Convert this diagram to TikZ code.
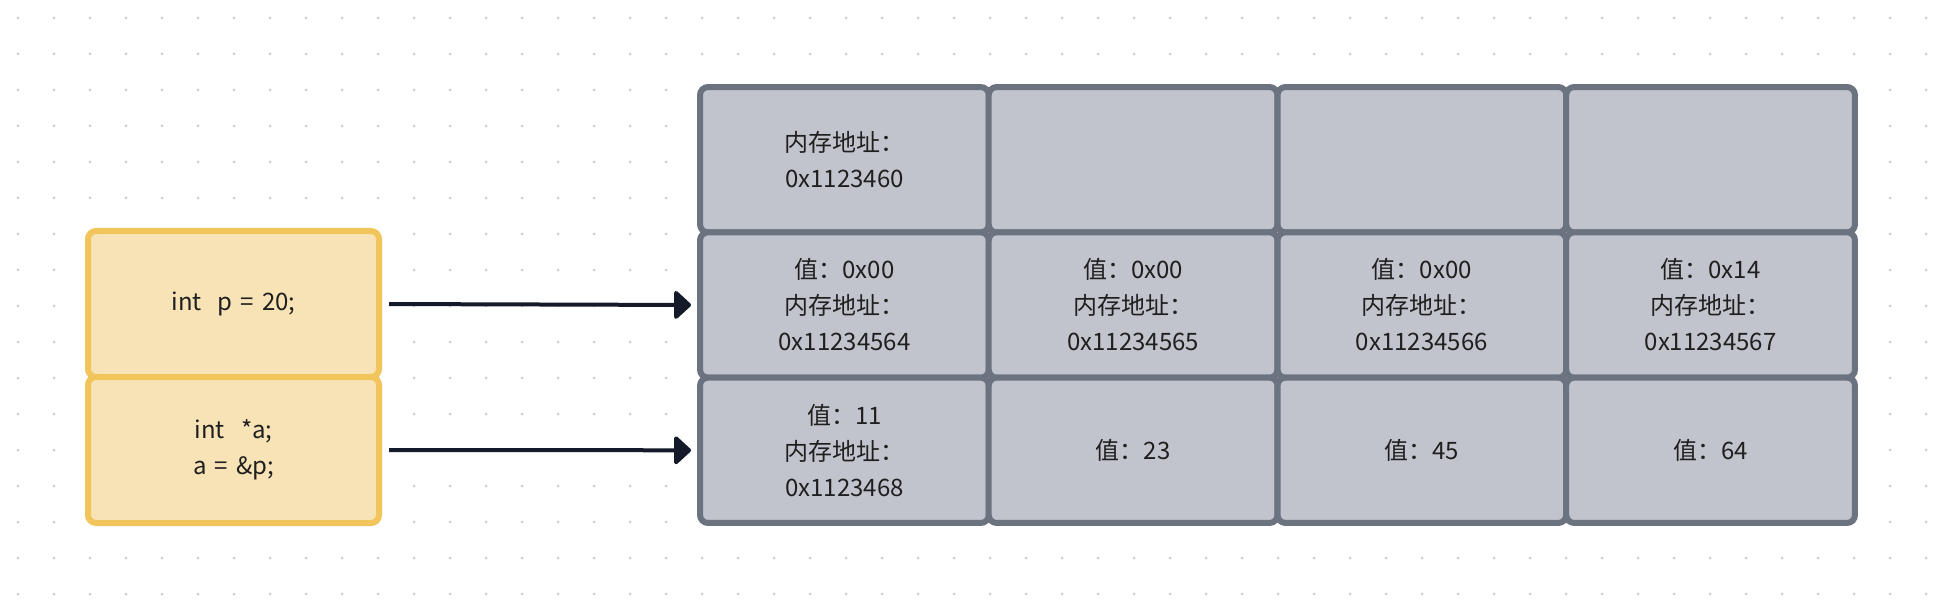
\documentclass[tikz,border=0pt]{standalone}
\usepackage{fontspec}
\setmainfont{Noto Sans CJK SC}[WordSpace={1.5,1,1}]
\usetikzlibrary{arrows.meta,shadows}
\definecolor{cellgray}{HTML}{C1C4CC}
\definecolor{cellline}{HTML}{6B7280}
\definecolor{varfill}{HTML}{F8E3B7}
\definecolor{varline}{HTML}{F2C45C}
\definecolor{inkdark}{HTML}{141A29}
\definecolor{dotgray}{HTML}{CFCFCF}
\tikzset{
	memcell/.style={draw=cellline, fill=cellgray, line width=6pt, rounded corners=8pt, minimum width=288.75pt, minimum height=145.33pt, inner sep=0pt, align=center, text=black!88, font=\fontsize{24}{36}\selectfont, drop shadow={shadow xshift=0pt, shadow yshift=-2pt, opacity=0.1}},
	varcell/.style={memcell, draw=varline, fill=varfill, minimum width=291pt, minimum height=146pt},
	pointer/.style={line width=4pt, color=inkdark, -{Triangle[length=18pt, width=32pt, round]}, shorten <=7pt, shorten >=6pt}
}

\begin{document}
\begin{tikzpicture}[x=1pt, y=-1pt]
			%%%%% START %%%%%
			
			\useasboundingbox[fill=white] (0, 0) rectangle (1944, 612);
			\foreach \i in {0,...,53}
				\foreach \j in {0,...,16}
					\fill[dotgray] (18+36*\i, 18+36*\j) circle (1.5);
			
			\node[varcell] (vp) at (233.5, 304) {int\ \ p = 20;};
			\node[varcell] (va) at (233.5, 450) {int\ \ *a;\\a = \&p;};
			
			\node[memcell] (c11) at (844.4, 159.7) {内存地址：\\0x1123460};
			\node[memcell] (c12) at (1133.1, 159.7) {};
			\node[memcell] (c13) at (1421.9, 159.7) {};
			\node[memcell] (c14) at (1710.6, 159.7) {};
			
			\node[memcell] (c21) at (844.4, 305) {值：0x00\\内存地址：\\0x11234564};
			\node[memcell] (c22) at (1133.1, 305) {值：0x00\\内存地址：\\0x11234565};
			\node[memcell] (c23) at (1421.9, 305) {值：0x00\\内存地址：\\0x11234566};
			\node[memcell] (c24) at (1710.6, 305) {值：0x14\\内存地址：\\0x11234567};
			
			\node[memcell] (c31) at (844.4, 450.3) {值：11\\内存地址：\\0x1123468};
			\node[memcell] (c32) at (1133.1, 450.3) {值：23};
			\node[memcell] (c33) at (1421.9, 450.3) {值：45};
			\node[memcell] (c34) at (1710.6, 450.3) {值：64};
			
			\draw[pointer] (vp.east) -- (c21.west);
			\draw[pointer] (va.east) -- (c31.west);
			
			%%%%% END %%%%%
\end{tikzpicture}
\end{document}
